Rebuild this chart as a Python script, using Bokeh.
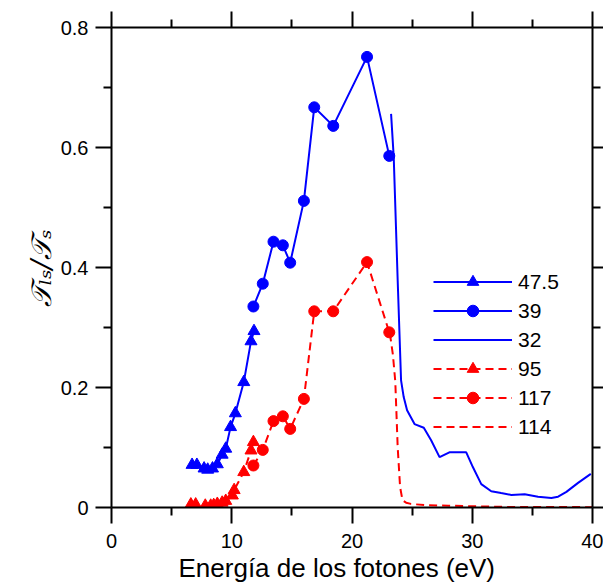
from bokeh.plotting import figure
from bokeh.models import (Range1d, LinearAxis, FixedTicker, NumeralTickFormatter,
                          Legend, LegendItem, Title)
from bokeh.embed import file_html
from bokeh.resources import INLINE

# ---- data ----
x_tri_blue = [6.7, 7.1, 7.7, 8.0, 8.4, 8.8, 9.2, 9.5, 9.9, 10.3, 11.0, 11.6, 11.85]
y_tri_blue = [0.071, 0.071, 0.065, 0.063, 0.065, 0.072, 0.088, 0.098, 0.134, 0.157, 0.209, 0.277, 0.294]

x_circ = [11.8, 12.58, 13.47, 14.25, 14.86, 16.0, 16.86, 18.44, 21.25, 23.1]
y_circ_blue = [0.335, 0.373, 0.443, 0.437, 0.408, 0.511, 0.667, 0.636, 0.751, 0.586]
y_circ_red = [0.070, 0.096, 0.144, 0.152, 0.131, 0.181, 0.327, 0.327, 0.409, 0.292]

x_tri_red = [6.6, 7.0, 7.8, 8.25, 8.5, 8.8, 9.2, 9.5, 10.05, 10.2, 11.0, 11.6, 11.8]
y_tri_red = [0.005, 0.005, 0.003, 0.003, 0.004, 0.006, 0.008, 0.011, 0.020, 0.029, 0.059, 0.095, 0.109]

x_32 = [23.25, 23.47, 23.8, 24.08, 24.3, 24.58, 25.2, 25.97, 26.58, 27.28, 28.1, 29.5,
        30.06, 30.75, 31.58, 32.4, 33.25, 34.36, 35.47, 36.58, 37.14, 37.83, 38.8, 39.86]
y_32 = [0.656, 0.584, 0.378, 0.212, 0.184, 0.162, 0.139, 0.133, 0.112, 0.084, 0.092, 0.092,
        0.067, 0.039, 0.027, 0.024, 0.021, 0.022, 0.018, 0.016, 0.018, 0.026, 0.041, 0.056]

x_114 = [23.15, 23.4, 23.6, 23.8, 24.0, 24.2, 24.5, 24.9, 26.0, 28.0, 30.0, 33.0, 36.0, 40.0]
y_114 = [0.29, 0.255, 0.21, 0.10, 0.034, 0.012, 0.008, 0.006, 0.004, 0.003, 0.002, 0.001, 0.001, 0.0005]

labels = ["47.5", "39", "32", "95", "117", "114"]

x_major = [0, 10, 20, 30, 40]
x_minor = [5, 15, 25, 35]
y_major = [0, 0.2, 0.4, 0.6, 0.8]
y_minor = [0.1, 0.3, 0.5, 0.7]

x_title = "Energía de los fotones (eV)"
y_title = "𝒯ₗₛ/𝒯ₛ"

BLUE = "#0000ff"
RED = "#ff0000"
FONT = "Liberation Sans"

p = figure(width=603, height=585, output_backend="svg", toolbar_location=None,
           x_range=Range1d(0, 40), y_range=Range1d(0, 0.8),
           x_axis_location=None, y_axis_location=None,
           min_border_left=111, min_border_right=11, min_border_top=27, min_border_bottom=78)
p.outline_line_color = None
p.grid.visible = False
p.background_fill_color = "white"
p.border_fill_color = "white"


def make_axis(ticks, minor, show_labels, tick_out):
    ax = LinearAxis(ticker=FixedTicker(ticks=ticks, minor_ticks=minor))
    ax.axis_line_width = 2
    ax.axis_line_color = "black"
    ax.major_tick_line_width = 2
    ax.minor_tick_line_width = 2
    ax.major_tick_line_color = "black"
    ax.minor_tick_line_color = "black"
    ax.major_tick_in = 0
    ax.major_tick_out = tick_out
    ax.minor_tick_in = 0
    ax.minor_tick_out = 8
    ax.formatter = NumeralTickFormatter(format="0.[0]")
    if show_labels:
        ax.major_label_text_font = FONT
        ax.major_label_text_font_size = "20px"
        ax.major_label_text_color = "black"
    else:
        ax.major_label_text_font_size = "0px"
        ax.major_label_text_color = None
        ax.major_label_standoff = 0
    return ax


xb = make_axis(x_major, x_minor, True, 16)
xb.major_label_standoff = 10
p.add_layout(xb, "below")

xt = make_axis(x_major, x_minor, False, 16)
p.add_layout(xt, "above")

yl = make_axis(y_major, y_minor, True, 16)
yl.major_label_standoff = 7
p.add_layout(yl, "left")

yr = make_axis(y_major, y_minor, False, 11)
p.add_layout(yr, "right")

# axis titles as side titles (the reference's x title sits a little left of centre)
xtitle = Title(text=x_title, align="left", offset=67, standoff=0,
               text_font=FONT, text_font_style="normal",
               text_font_size="26px", text_color="black")
p.add_layout(xtitle, "below")

ytitle = Title(text=y_title, align="left", offset=201, standoff=0,
               text_font="DejaVu Serif", text_font_style="italic",
               text_font_size="28px", text_color="black")
p.add_layout(ytitle, "left")

# ---- data glyphs ----
r_tb_l = p.line(x_tri_blue, y_tri_blue, line_color=BLUE, line_width=2)
r_tb_m = p.scatter(x_tri_blue, y_tri_blue, marker="triangle", size=12, fill_color=BLUE, line_color=BLUE)

r_cb_l = p.line(x_circ, y_circ_blue, line_color=BLUE, line_width=2)
r_cb_m = p.scatter(x_circ, y_circ_blue, marker="circle", size=11, fill_color=BLUE, line_color=BLUE)

r_32 = p.line(x_32, y_32, line_color=BLUE, line_width=2)

r_tr_l = p.line(x_tri_red, y_tri_red, line_color=RED, line_width=2, line_dash="8 5")
r_tr_m = p.scatter(x_tri_red, y_tri_red, marker="triangle", size=12, fill_color=RED, line_color=RED)

r_cr_l = p.line(x_circ, y_circ_red, line_color=RED, line_width=2, line_dash="8 5")
r_cr_m = p.scatter(x_circ, y_circ_red, marker="circle", size=11, fill_color=RED, line_color=RED)

r_114 = p.line(x_114, y_114, line_color=RED, line_width=2, line_dash="8 5")

legend = Legend(items=[
    LegendItem(label=labels[0], renderers=[r_tb_l, r_tb_m]),
    LegendItem(label=labels[1], renderers=[r_cb_l, r_cb_m]),
    LegendItem(label=labels[2], renderers=[r_32]),
    LegendItem(label=labels[3], renderers=[r_tr_l, r_tr_m]),
    LegendItem(label=labels[4], renderers=[r_cr_l, r_cr_m]),
    LegendItem(label=labels[5], renderers=[r_114]),
], location=(322, 66))
legend.border_line_color = None
legend.background_fill_alpha = 0
legend.padding = 0
legend.spacing = 0
legend.margin = 0
legend.glyph_width = 79
legend.glyph_height = 29
legend.label_height = 29
legend.label_standoff = 6
legend.label_text_font = FONT
legend.label_text_font_size = "21px"
legend.label_text_color = "black"
p.add_layout(legend, "center")

open("out.html", "w").write(file_html(p, INLINE))
